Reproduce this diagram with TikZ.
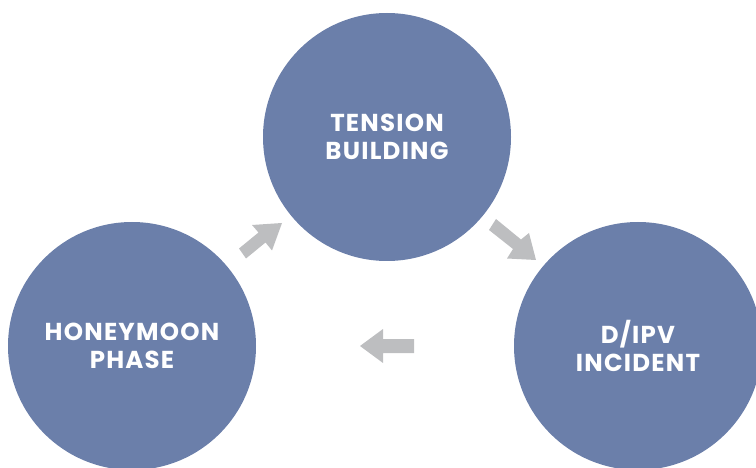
\documentclass[tikz,border=0pt]{standalone}
\usepackage{fontspec}
\setmainfont{Poppins}[LetterSpace=5]
\begin{document}
\begin{tikzpicture}[x=1pt,y=-1pt,
  phase/.style={circle,fill=phaseblue,minimum size=248pt,inner sep=0pt,
    text=white,font=\fontsize{24.5}{27.5}\selectfont\bfseries,align=center},
  blockarrow/.style={fill=arrowgrey}]
\definecolor{phaseblue}{HTML}{6B7FAA}
\definecolor{arrowgrey}{HTML}{BDBEC0}
\useasboundingbox (0,0) rectangle (756,468);
\clip (0,0) rectangle (756,468);
\node[phase] (tension) at (387,137) {TENSION\\BUILDING};
\node[phase] (honey) at (132,346) {HONEYMOON\\PHASE};
\node[phase] (incident) at (638,346) {D/IPV\\INCIDENT};
% arrow honeymoon -> tension
\coordinate (b1) at (282,223);
\fill[blockarrow] (b1) -- ++(-30,2) -- ++(6.5,7.5) -- ++(-19.5,16) -- ++(7,10) -- ++(19.5,-16) -- ++(6.5,8) -- cycle;
% arrow tension -> incident
\coordinate (b2) at (536,260);
\fill[blockarrow] (b2) -- ++(-7,-27) -- ++(-8,6.5) -- ++(-25,-20.5) -- ++(-7,11) -- ++(24,19) -- ++(-6,9.5) -- cycle;
% arrow incident -> honeymoon
\coordinate (b3) at (360,346);
\fill[blockarrow] (b3) -- (383,329) -- (383,339) -- (414,339) -- (414,353) -- (383,353) -- (383,363) -- cycle;
\end{tikzpicture}
\end{document}
